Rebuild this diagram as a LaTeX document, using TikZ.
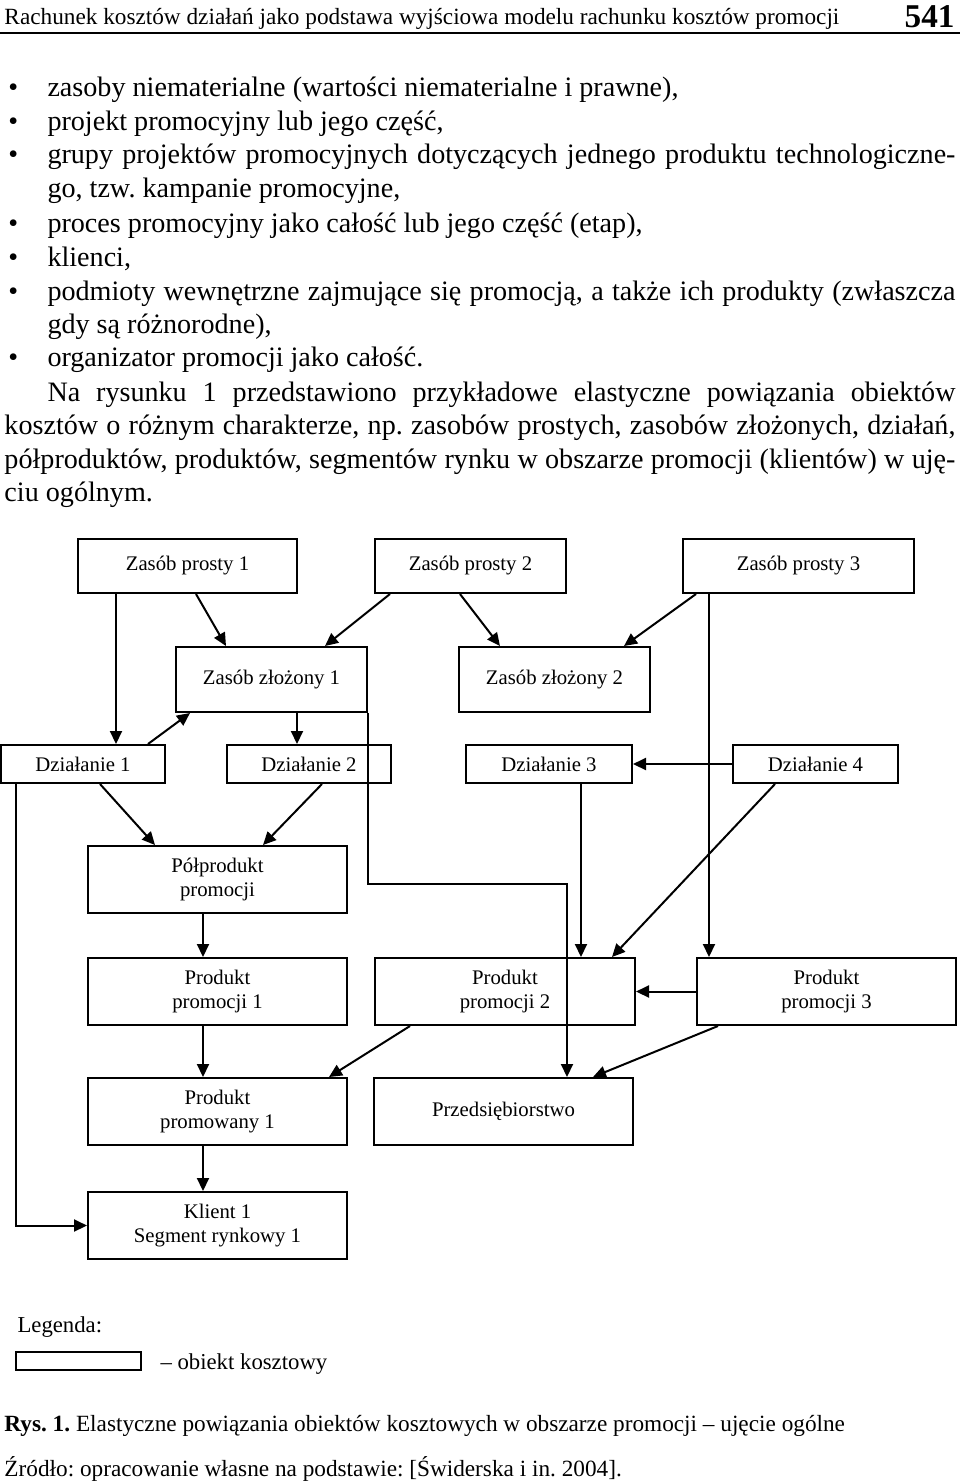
\documentclass[tikz,border=0pt]{standalone}
\usepackage{fontspec}
\setmainfont{Liberation Serif}
\usetikzlibrary{arrows.meta,positioning}
\frenchspacing

\newcommand\bodyfnt{\fontsize{11.25}{13.5}\selectfont}
\newcommand\boxfnt{\fontsize{8.3}{9.6}\selectfont}
\newcommand\headfnt{\fontsize{9.3}{11}\selectfont}
\newcommand\legfnt{\fontsize{9.1}{11}\selectfont}

\tikzset{
  obj/.style 2 args={draw, line width=0.8pt, inner sep=0pt, align=center, font=\boxfnt,
    minimum width=#1*0.4pt, minimum height=#2*0.4pt},
  conn/.style={line width=0.8pt, -{Triangle[length=5.2pt,width=4.8pt]}},
  txt/.style={anchor=base west, inner sep=0pt, font=\bodyfnt},
}

\begin{document}
\begin{tikzpicture}[x=0.4pt, y=-0.4pt]
        \useasboundingbox (0,0) rectangle (960,1482);
        % page head
        \node[anchor=base west, inner sep=0pt, font=\headfnt] (head) at (4,24)
          {Rachunek kosztów działań jako podstawa wyjściowa modelu rachunku kosztów promocji};
        \node[anchor=base east, inner sep=0pt, font=\fontsize{13.3}{15}\selectfont\bfseries] (pgno) at (955,27) {541};
        \draw[line width=0.6pt] (0,33) -- (960,33);
        % running text
        \foreach \i/\yy in {0/96, 1/130, 2/163, 4/232, 5/266, 6/300, 8/366}
          \node[txt] (bul\i) at (8,\yy) {\textbullet};
        \node[txt] (t0) at (47,96) {zasoby niematerialne (wartości niematerialne i prawne),};
        \node[txt] (t1) at (47,130) {projekt promocyjny lub jego część,};
        \node[txt] (t2) at (47,163) {\makebox[363.2pt][s]{grupy projektów promocyjnych dotyczących jednego produktu technologiczne-}};
        \node[txt] (t3) at (47,197) {go, tzw. kampanie promocyjne,};
        \node[txt] (t4) at (47,232) {proces promocyjny jako całość lub jego część (etap),};
        \node[txt] (t5) at (47,266) {klienci,};
        \node[txt] (t6) at (47,300) {\makebox[363.2pt][s]{podmioty wewnętrzne zajmujące się promocją, a także ich produkty (zwłaszcza}};
        \node[txt] (t7) at (47,333) {gdy są różnorodne),};
        \node[txt] (t8) at (47,366) {organizator promocji jako całość.};
        \node[txt] (t9) at (47,401) {\makebox[363.2pt][s]{Na rysunku 1 przedstawiono przykładowe elastyczne powiązania obiektów}};
        \node[txt] (t10) at (4,434) {\makebox[380.4pt][s]{kosztów o różnym charakterze, np. zasobów prostych, zasobów złożonych, działań,}};
        \node[txt] (t11) at (4,468) {\makebox[380.4pt][s]{półproduktów, produktów, segmentów rynku w obszarze promocji (klientów) w uję-}};
        \node[txt] (t12) at (4,501) {ciu ogólnym.};
        % cost objects
        \node[obj={219}{54}] (zp1) at (187.5,566) {Zasób prosty 1};
        \node[obj={191}{54}] (zp2) at (470.5,566) {Zasób prosty 2};
        \node[obj={231}{54}] (zp3) at (798.5,566) {Zasób prosty 3};
        \node[obj={191}{65}] (zz1) at (271.5,679.5) {Zasób złożony 1};
        \node[obj={191}{65}] (zz2) at (554.5,679.5) {Zasób złożony 2};
        \node[obj={164}{38}] (d1) at (83,764) {Działanie 1};
        \node[obj={164}{38}] (d2) at (309,764) {Działanie 2};
        \node[obj={166}{38}] (d3) at (549,764) {Działanie 3};
        \node[obj={165}{38}] (d4) at (815.5,764) {Działanie 4};
        \node[obj={259}{67}] (pol) at (217.5,879.5) {Półprodukt\\promocji};
        \node[obj={259}{67}] (pp1) at (217.5,991.5) {Produkt\\promocji 1};
        \node[obj={260}{67}] (pp2) at (505,991.5) {Produkt\\promocji 2};
        \node[obj={259}{67}] (pp3) at (826.5,991.5) {Produkt\\promocji 3};
        \node[obj={259}{67}] (ppr) at (217.5,1111.5) {Produkt\\promowany 1};
        \node[obj={259}{67}] (prz) at (503.5,1111.5) {Przedsiębiorstwo};
        \node[obj={259}{67}] (kl) at (217.5,1225.5) {Klient 1\\Segment rynkowy 1};
        % links
        \draw[conn] ([shift={(-71.5,0)}]zp1.south) -- ([shift={(33,0)}]d1.north);
        \draw[conn] ([shift={(8.5,0)}]zp1.south) -- ([shift={(-45.5,0)}]zz1.north);
        \draw[conn] ([shift={(-80.5,0)}]zp2.south) -- ([shift={(53.5,0)}]zz1.north);
        \draw[conn] ([shift={(-10.5,0)}]zp2.south) -- ([shift={(-54.5,0)}]zz2.north);
        \draw[conn] ([shift={(-102.5,0)}]zp3.south) -- ([shift={(69.5,0)}]zz2.north);
        \draw[conn] ([shift={(-89.5,0)}]zp3.south) -- ([shift={(-117.5,0)}]pp3.north);
        \draw[conn] ([shift={(65,0)}]d1.north) -- ([shift={(-81.5,0)}]zz1.south);
        \draw[conn] ([shift={(25.5,0)}]zz1.south) -- ([shift={(-12,0)}]d2.north);
        \draw[conn] (zz1.south east) -- ++(0,171) -| ([shift={(63.5,0)}]prz.north);
        \draw[conn] ([shift={(17,0)}]d1.south) -- ([shift={(-62.5,0)}]pol.north);
        \draw[conn] ([shift={(13,0)}]d2.south) -- ([shift={(45.5,0)}]pol.north);
        \draw[conn] ([shift={(-67,0)}]d1.south) |- (kl.west);
        \draw[conn] ([shift={(-14.5,0)}]pol.south) -- ([shift={(-14.5,0)}]pp1.north);
        \draw[conn] ([shift={(-14.5,0)}]pp1.south) -- ([shift={(-14.5,0)}]ppr.north);
        \draw[conn] ([shift={(-14.5,0)}]ppr.south) -- ([shift={(-14.5,0)}]kl.north);
        \draw[conn] ([shift={(-95,0)}]pp2.south) -- ([shift={(111.5,0)}]ppr.north);
        \draw[conn] ([shift={(32,0)}]d3.south) -- ([shift={(76,0)}]pp2.north);
        \draw[conn] ([shift={(-40.5,0)}]d4.south) -- ([shift={(107,0)}]pp2.north);
        \draw[conn] (d4.west) -- (d3.east);
        \draw[conn] (pp3.west) -- (pp2.east);
        \draw[conn] ([shift={(-108.5,0)}]pp3.south) -- ([shift={(89.5,0)}]prz.north);
        % legend and caption
        \node[anchor=base west, inner sep=0pt, font=\legfnt] (leg) at (17,1332) {Legenda:};
        \node[draw, line width=0.8pt, inner sep=0pt, minimum width=125*0.4pt, minimum height=18*0.4pt] (legbox) at (78.5,1361) {};
        \node[anchor=base west, inner sep=0pt, font=\legfnt] (legtxt) at (160,1369) {– obiekt kosztowy};
        \node[anchor=base west, inner sep=0pt, font=\headfnt] (cap) at (4,1431)
          {\textbf{Rys. 1.} Elastyczne powiązania obiektów kosztowych w obszarze promocji – ujęcie ogólne};
        \node[anchor=base west, inner sep=0pt, font=\headfnt] (src) at (4,1476)
          {Źródło: opracowanie własne na podstawie: [Świderska i in. 2004].};
\end{tikzpicture}
\end{document}
